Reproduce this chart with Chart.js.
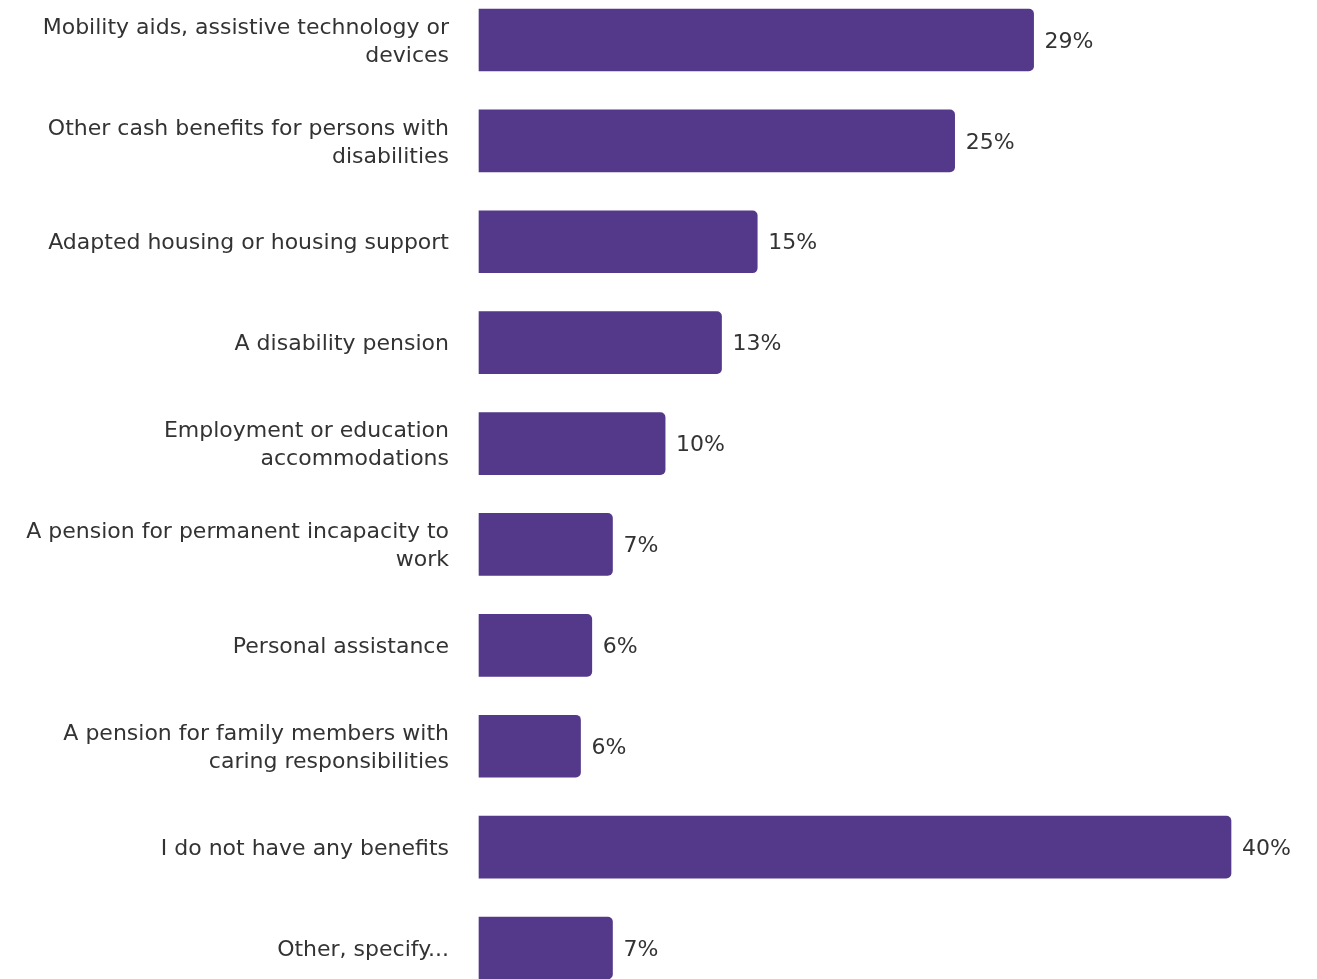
<!DOCTYPE html>
<html>
<head>
<meta charset="utf-8">
<script src="https://cdn.jsdelivr.net/npm/chart.js@4"></script>
<style>
  html, body { margin: 0; padding: 0; background: #fff; overflow: hidden; }
</style>
</head>
<body>
<canvas id="myChart" width="1317" height="979"></canvas>
<script>
var categories = [
    ["Mobility aids, assistive technology or", "devices"],
    ["Other cash benefits for persons with", "disabilities"],
    "Adapted housing or housing support",
    "A disability pension",
    ["Employment or education", "accommodations"],
    ["A pension for permanent incapacity to", "work"],
    "Personal assistance",
    ["A pension for family members with", "caring responsibilities"],
    "I do not have any benefits",
    "Other, specify..."
];
var shares = [29.5, 25.3, 14.8, 12.9, 9.9, 7.1, 6.0, 5.4, 40.0, 7.1];
var shareLabels = ["29%", "25%", "15%", "13%", "10%", "7%", "6%", "6%", "40%", "7%"];

var barColor = '#54388a';
var textColor = '#333333';
var fontFamily = '"DejaVu Sans", Verdana, sans-serif';

// writes the percentage next to each bar
var valueLabels = {
    id: 'valueLabels',
    afterDatasetsDraw: function(chart){
        var ctx = chart.ctx;
        var meta = chart.getDatasetMeta(0);
        ctx.save();
        ctx.font = '22px ' + fontFamily;
        ctx.fillStyle = textColor;
        ctx.textAlign = 'left';
        ctx.textBaseline = 'middle';
        meta.data.forEach(function(bar, i){
            ctx.fillText(shareLabels[i], bar.x + 11, bar.y + 2);
        });
        ctx.restore();
    }
};

var ctx = document.getElementById('myChart').getContext('2d');
var myChart = new Chart(ctx, {
    type: 'bar',
    data: {
        labels: categories,
        datasets: [{
            data: shares,
            backgroundColor: barColor,
            borderRadius: { topRight: 5, bottomRight: 5, topLeft: 0, bottomLeft: 0 },
            borderSkipped: 'left',
            barThickness: 62,
            clip: false
        }]
    },
    options: {
        indexAxis: 'y',
        responsive: false,
        animation: false,
        devicePixelRatio: 1,
        layout: {
            padding: { top: 40, bottom: 31, right: 86, left: 0 }
        },
        plugins: {
            legend: { display: false },
            tooltip: { enabled: false }
        },
        scales: {
            x: {
                display: false,
                min: 0,
                max: 40
            },
            y: {
                offset: false,
                grid: { display: false, drawTicks: false },
                border: { display: false },
                afterFit: function(scale){
                    scale.width = 479;
                    scale.paddingTop = 0;
                    scale.paddingBottom = 0;
                },
                ticks: {
                    padding: 30,
                    labelOffset: 2,
                    color: textColor,
                    font: { family: fontFamily, size: 22, lineHeight: 1.27 }
                }
            }
        }
    },
    plugins: [valueLabels]
});
</script>
</body>
</html>
